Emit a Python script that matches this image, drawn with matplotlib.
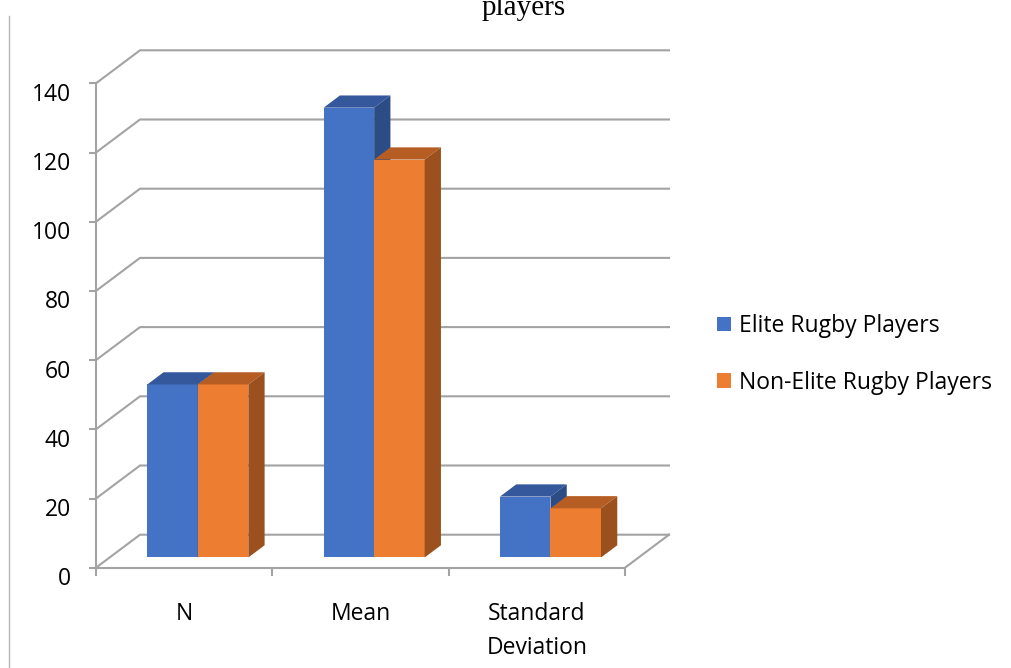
import matplotlib
matplotlib.use("Agg")
import matplotlib.pyplot as plt
from matplotlib.patches import Polygon
from matplotlib.lines import Line2D
from matplotlib.transforms import ScaledTranslation

# data
categories = ["N", "Mean", "Standard\nDeviation"]
elite = [50, 130, 17.6]
non_elite = [50, 115, 14.2]
series_names = ["Elite Rugby Players", "Non-Elite Rugby Players"]
y_ticks = [0, 20, 40, 60, 80, 100, 120, 140]

W, H = 1011, 668
grid_color = "#a3a3a3"
blue = ("#4472c4", "#34589b", "#2c4c86")      # front, top, side
orange = ("#ed7d31", "#b65d24", "#9b501e")

plt.rcParams["font.family"] = ["Open Sans", "DejaVu Sans"]

fig = plt.figure(figsize=(W / 100, H / 100), dpi=100)

# front plane of the 3d box in pixels
x0_px, x1_px = 96, 625
y0_px, y1_px = 567.7, 83.3
ax = fig.add_axes([x0_px / W, 1 - y0_px / H, (x1_px - x0_px) / W, (y0_px - y1_px) / H])
ax.set_xlim(-0.5, 2.5)
ax.set_ylim(0, 140)

# oblique depth vector in data units
DX = 44 / 176.3
DY = 33 / 3.46
f0, f1 = 0.31, 0.68   # bar front / back as a fraction of depth
bar_w = 0.2865

# back wall + side wall gridlines
for v in y_ticks:
    ax.plot([-0.5, -0.5 + DX, 2.5 + DX], [v, v + DY, v + DY], color=grid_color,
            lw=1.5, clip_on=False, zorder=1)
# right edge of the floor
ax.plot([2.5, 2.5 + DX], [0, DY], color=grid_color, lw=1.5, clip_on=False, zorder=1)


def draw_series(lefts, values, cols, label):
    shifted = [x + f0 * DX for x in lefts]
    cont = ax.bar(shifted, values, width=bar_w, bottom=f0 * DY, align="edge",
                  color=cols[0], label=label, zorder=3)
    for xl, v in zip(lefts, values):
        xr = xl + bar_w
        top = [(xl + f0 * DX, v + f0 * DY), (xr + f0 * DX, v + f0 * DY),
               (xr + f1 * DX, v + f1 * DY), (xl + f1 * DX, v + f1 * DY)]
        side = [(xr + f0 * DX, f0 * DY), (xr + f0 * DX, v + f0 * DY),
                (xr + f1 * DX, v + f1 * DY), (xr + f1 * DX, f1 * DY)]
        ax.add_patch(Polygon(top, closed=True, facecolor=cols[1], edgecolor="none",
                             zorder=3, clip_on=False))
        ax.add_patch(Polygon(side, closed=True, facecolor=cols[2], edgecolor="none",
                             zorder=3, clip_on=False))
    return cont


idx = range(len(categories))
b1 = draw_series([i - bar_w for i in idx], elite, blue, series_names[0])
b2 = draw_series([i for i in idx], non_elite, orange, series_names[1])

# axes look
for s in ["top", "right"]:
    ax.spines[s].set_visible(False)
for s in ["left", "bottom"]:
    ax.spines[s].set_color(grid_color)
    ax.spines[s].set_linewidth(1.5)
    ax.spines[s].set_zorder(1)

ax.set_yticks(y_ticks)
ax.tick_params(axis="y", length=5, width=1.5, color=grid_color, pad=13,
               labelsize=16.5, labelcolor="black")
for lab in ax.get_yticklabels():
    lab.set_transform(lab.get_transform() + ScaledTranslation(0, -0.085, fig.dpi_scale_trans))

ax.set_xticks(list(idx))
ax.set_xticklabels(categories, linespacing=1.55)
ax.set_xticks([-0.5, 0.5, 1.5, 2.5], minor=True)
ax.tick_params(axis="x", which="major", length=0, pad=25, labelsize=16.5)
ax.tick_params(axis="x", which="minor", length=6, width=1.5, color=grid_color)

fig.legend(handles=[b1, b2], loc="upper left", bbox_to_anchor=(717 / W, 1 - 314 / H),
           frameon=False, fontsize=16.5, handlelength=0.6, handleheight=0.6,
           handletextpad=0.35, labelspacing=1.42, borderpad=0, borderaxespad=0)

# title, only its last line is inside the picture
fig.text(524 / W, 1 - 15 / H, "players", family="Liberation Serif", fontsize=21,
         ha="center", va="baseline")

# thin frame line on the left
fig.add_artist(Line2D([8.5 / W, 8.5 / W], [0, 1 - 16 / H], color="#b8b8b8", lw=1))

fig.savefig("out.png", dpi=100)
